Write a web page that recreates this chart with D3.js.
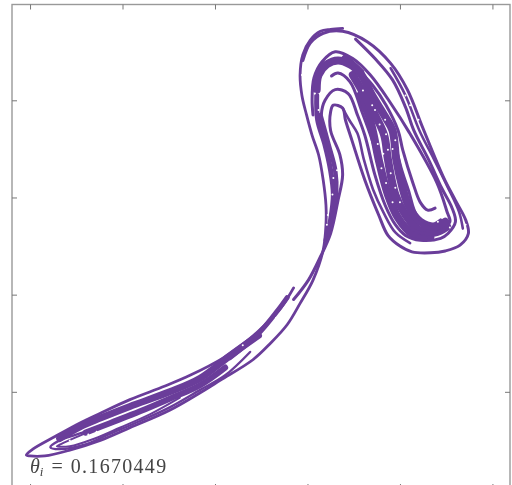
<!DOCTYPE html>
<html>
<head>
<meta charset="utf-8">
<script src="https://cdn.jsdelivr.net/npm/d3@7"></script>
<style>
  html, body { margin: 0; padding: 0; background: #fff; overflow: hidden; }
</style>
</head>
<body>
<script>
// tick values, the axes carry no labels
var xTicks = [0, 100, 200, 300, 400, 500];
var yTicks = [100, 200, 300, 400];
var thetaLabel = "0.1670449";

// strands of the attractor as [x, y]
var mainCurve = [[338,474],[325,473],[314,471],[303,462],[295,447],[292,426],[294,405],[299,385],[305,364],[312,344],[317,318],[320,292],[320,272],[317,246],[306,215],[292,191],[278,169],[260,150],[241,133],[206,112],[184,99],[151,81],[108,63],[76,50],[43,40],[16,34],[0,34],[-4,35],[3,41],[27,54],[54,68],[76,78],[108,92],[146,106],[173,117],[209,135],[238,155],[254,169],[271,186],[285,207]];
var outerArch = [[295,441],[303,459],[317,469],[338,471],[365,460],[390,438],[408,411],[425,371],[447,321],[460,297],[471,277],[474,263],[465,251],[449,245],[433,243],[413,244],[400,250],[387,261],[377,282],[362,318],[348,359],[341,380],[338,392],[328,395],[325,388],[325,369],[335,344],[338,323],[333,297],[325,263],[314,239],[301,215],[285,195]];
var secondArch = [[352,463],[373,443],[392,421],[406,393],[415,369],[431,339],[445,310],[456,290],[460,275],[452,263],[444,258],[422,256],[406,261],[395,272],[384,292],[373,323],[362,364],[354,385],[344,407],[330,411],[319,400],[315,385],[318,364],[326,344],[331,318],[330,292],[323,261]];
var thirdArch = [[390,433],[406,405],[421,369],[437,339],[451,312],[464,285],[468,268]];
var fourthArch = [[306,385],[305,400],[307,423],[316,440],[330,450],[349,443],[368,426],[390,397],[410,367],[440,315],[451,285],[454,275],[441,264],[422,264],[406,272],[393,292],[380,328],[370,359],[359,388],[346,419],[333,428],[326,425]];
var doubledArch = [[338,392],[345,380],[354,366],[361,339],[371,308],[382,285],[395,264],[411,253]];
var thickTop = [[310,411],[312,426],[321,437],[333,441],[346,437],[357,429]];
var denseA = [[341,443],[357,428],[370,405],[384,383],[392,369],[396,339],[402,313],[409,292],[422,275],[438,270],[449,275]];
var denseB = [[349,426],[360,408],[373,385],[383,364],[387,339],[395,303],[406,282],[420,267],[438,264],[451,270]];
var denseC = [[357,405],[366,385],[371,367],[377,339],[387,303],[398,279],[413,263],[433,259]];
var innerHook = [[438,289],[430,287],[422,295],[414,315],[403,349],[398,369],[385,395],[370,416],[349,437]];
var secondHook = [[444,277],[433,272],[419,280],[409,308],[402,328],[392,364],[384,385]];
var legOne = [[310,405],[311,380],[319,354],[325,328],[328,303],[325,277],[320,256]];
var legTwo = [[314,385],[323,354],[330,328],[331,303],[325,272]];
var tailBand = [[32,52],[54,64],[76,73],[108,85],[151,100],[184,114],[216,137],[247,158]];
var tailTip = [[216,135],[247,160],[268,184],[278,197]];
var tailFill = [[60,58],[87,68],[119,80],[151,93],[184,107],[211,125]];
var tailHairpin = [[97,73],[60,59],[32,50],[22,43],[32,41],[60,46],[87,57],[119,70],[151,84],[184,102],[211,117],[238,141]];
var tailInner = [[81,66],[54,55],[35,47],[29,44],[43,44],[70,52],[97,63],[130,77],[162,94]];

// gaps in the point cloud
var flecks = [[294,426],[308,407],[312,390],[328,320],[327,303],[322,282],[321,272],[332,328],[411,395],[406,405],[420,380],[395,359],[384,380],[387,349],[373,390],[441,275],[449,282],[454,269],[471,272],[266,176],[230,148],[43,50],[52,51],[63,56],[72,59],[378,375],[385,365],[376,355],[392,350],[382,345],[380,330],[390,325],[385,315],[395,310],[392,295],[400,295],[370,395],[360,410]];

var purple = "#6a3d9a";
var frameColor = "#999";
var tickColor = "#777";

var width = 512;
var height = 485;

var x = d3.scaleLinear().domain([-19.5, 519]).range([12, 510]);
var y = d3.scaleLinear().domain([0, 498.6]).range([489, 4.5]);

var svg = d3.select("body").append("svg")
    .attr("width", width)
    .attr("height", height)
    .style("display", "block");

// the reference is a slightly soft scan
var filter = svg.append("defs").append("filter").attr("id", "soft");
filter.append("feGaussianBlur").attr("stdDeviation", 0.35);

var root = svg.append("g").attr("filter", "url(#soft)");

//*********** Frame and ticks *******************
root.append("rect")
    .attr("x", x.range()[0])
    .attr("y", y.range()[1])
    .attr("width", x.range()[1] - x.range()[0])
    .attr("height", y.range()[0] - y.range()[1])
    .attr("fill", "#fff")
    .attr("stroke", frameColor)
    .attr("stroke-width", 1.4);

function tickStyle(g) {
    g.select(".domain").remove();
    g.selectAll(".tick line").attr("stroke", tickColor).attr("stroke-width", 1);
}

root.append("g").attr("transform", "translate(0," + y.range()[1] + ")")
    .call(d3.axisTop(x).tickValues(xTicks).tickSize(-5).tickFormat(""))
    .call(tickStyle);
root.append("g").attr("transform", "translate(0," + y.range()[0] + ")")
    .call(d3.axisBottom(x).tickValues(xTicks).tickSize(-5).tickFormat(""))
    .call(tickStyle);
root.append("g").attr("transform", "translate(" + x.range()[0] + ",0)")
    .call(d3.axisLeft(y).tickValues(yTicks).tickSize(-5).tickFormat(""))
    .call(tickStyle);
root.append("g").attr("transform", "translate(" + x.range()[1] + ",0)")
    .call(d3.axisRight(y).tickValues(yTicks).tickSize(-5).tickFormat(""))
    .call(tickStyle);

//*********** Attractor strands *******************
var line = d3.line()
    .x(function(d) { return x(d[0]); })
    .y(function(d) { return y(d[1]); })
    .curve(d3.curveCatmullRom.alpha(0.5));

var strands = [
    { pts: denseC, w: 8 },
    { pts: denseB, w: 8 },
    { pts: denseA, w: 8 },
    { pts: thickTop, w: 8 },
    { pts: legOne, w: 5 },
    { pts: legTwo, w: 4.5 },
    { pts: mainCurve, w: 2.8 },
    { pts: outerArch, w: 3 },
    { pts: secondArch, w: 3 },
    { pts: thirdArch, w: 2.6 },
    { pts: fourthArch, w: 3 },
    { pts: doubledArch, w: 2.6 },
    { pts: innerHook, w: 3 },
    { pts: secondHook, w: 3 },
    { pts: tailBand, w: 7 },
    { pts: tailTip, w: 5 },
    { pts: tailFill, w: 6 },
    { pts: tailHairpin, w: 2.4 },
    { pts: tailInner, w: 2 }
];

root.selectAll("path.strand").data(strands).enter().append("path")
    .attr("class", "strand")
    .attr("d", function(d) { return line(d.pts); })
    .attr("fill", "none")
    .attr("stroke", purple)
    .attr("stroke-width", function(d) { return d.w; })
    .attr("stroke-linecap", "round");

root.selectAll("circle.fleck").data(flecks).enter().append("circle")
    .attr("class", "fleck")
    .attr("cx", function(d) { return x(d[0]); })
    .attr("cy", function(d) { return y(d[1]); })
    .attr("r", 1)
    .attr("fill", "#fff");

//*********** Label *******************
var label = root.append("text")
    .attr("x", 30)
    .attr("y", 473)
    .attr("font-family", "'Liberation Serif', serif")
    .attr("font-size", 20)
    .attr("fill", "#444");
label.append("tspan").attr("font-style", "italic").text("θ");
label.append("tspan").attr("font-style", "italic").attr("font-size", 13).attr("dy", 3).text("i");
label.append("tspan").attr("dy", -3).attr("dx", 8).text("=");
label.append("tspan").attr("dx", 8).attr("letter-spacing", 1.3).text(thetaLabel);
</script>
</body>
</html>
